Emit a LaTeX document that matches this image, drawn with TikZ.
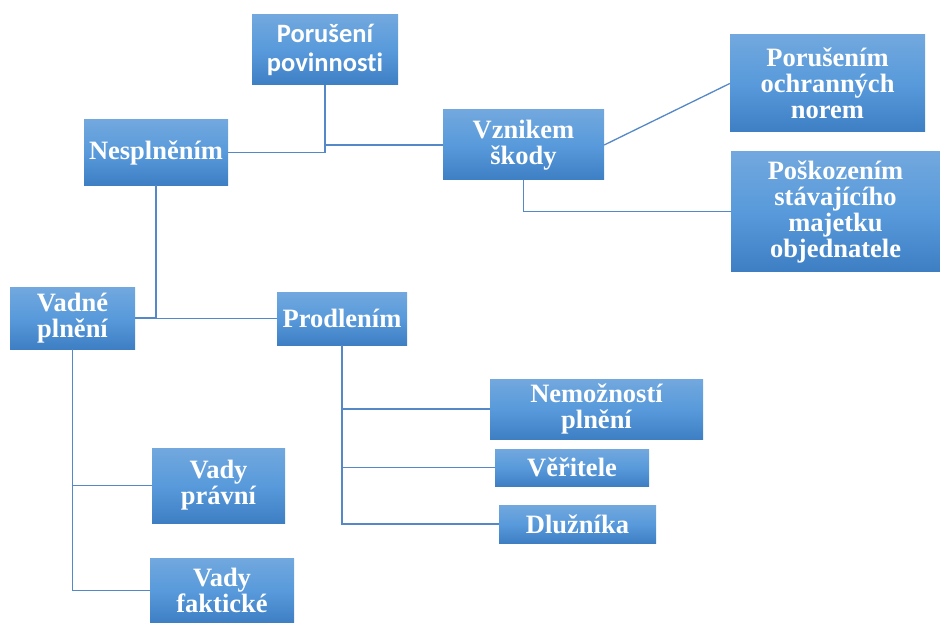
\documentclass[tikz,border=0pt]{standalone}
\usepackage{fontspec}
\setmainfont{Liberation Serif}
\newfontfamily\calib[Ligatures=NoCommon]{Carlito}
\definecolor{btop}{RGB}{114,168,222}
\definecolor{bmid}{RGB}{88,154,219}
\definecolor{bbot}{RGB}{62,127,196}
\definecolor{lnc}{RGB}{84,136,198}
\tikzset{
  box/.style={rectangle, inner sep=0pt, top color=btop, bottom color=bbot, middle color=bmid,
    text=white, font=\fontsize{26.5}{26}\selectfont\bfseries, align=center},
  conn/.style={draw=lnc, line width=1.3pt}
}
\begin{document}
\begin{tikzpicture}[x=1pt,y=-1pt]
\useasboundingbox (0,0) rectangle (940,623);
\node[box, minimum width=146pt, minimum height=70pt, font=\calib\fontsize{26.5}{29}\selectfont\bfseries] (por) at (325,50) {Porušení\\povinnosti};
\node[box, minimum width=144pt, minimum height=65pt] (nes) at (156,152.5) {Nesplněním};
\node[box, minimum width=161pt, minimum height=70pt] (vzn) at (523.5,145) {Vznikem\\škody};
\node[box, minimum width=195pt, minimum height=97pt] (och) at (827.5,83.5) {Porušením\\ochranných\\norem};
\node[box, minimum width=209pt, minimum height=119pt] (pos) at (835.5,211.5) {Poškozením\\stávajícího\\majetku\\objednatele};
\node[box, minimum width=125pt, minimum height=62pt] (vad) at (72.5,318) {Vadné\\plnění};
\node[box, minimum width=130pt, minimum height=53pt] (pro) at (342,318.5) {Prodlením};
\node[box, minimum width=213pt, minimum height=60pt] (nem) at (596.5,409) {Nemožností\\plnění};
\node[box, minimum width=154pt, minimum height=37pt] (ver) at (572,467.5) {Věřitele};
\node[box, minimum width=157pt, minimum height=38pt] (dlu) at (577.5,524) {Dlužníka};
\node[box, minimum width=133pt, minimum height=75pt] (vpr) at (218.5,485.5) {Vady\\právní};
\node[box, minimum width=144pt, minimum height=65pt] (vfa) at (222,590.5) {Vady\\faktické};

\draw[conn] (nes.east) -- (por.south |- nes.east) -- (por.south);
\draw[conn] (por.south |- vzn.west) -- (vzn.west);
\draw[conn] (vzn.east) -- (och.west);
\draw[conn] (vzn.south) -- (vzn.south |- pos.west) -- (pos.west);
\draw[conn] (nes.south) -- (nes.south |- pro.west) -- (pro.west);
\draw[conn] (vad.east) -- (nes.south |- vad.east);
\draw[conn] (vad.south) -- (vad.south |- vfa.west) -- (vfa.west);
\draw[conn] (vad.south |- vpr.west) -- (vpr.west);
\draw[conn] (pro.south) -- (pro.south |- dlu.west) -- (dlu.west);
\draw[conn] (pro.south |- nem.west) -- (nem.west);
\draw[conn] (pro.south |- ver.west) -- (ver.west);
\end{tikzpicture}
\end{document}
